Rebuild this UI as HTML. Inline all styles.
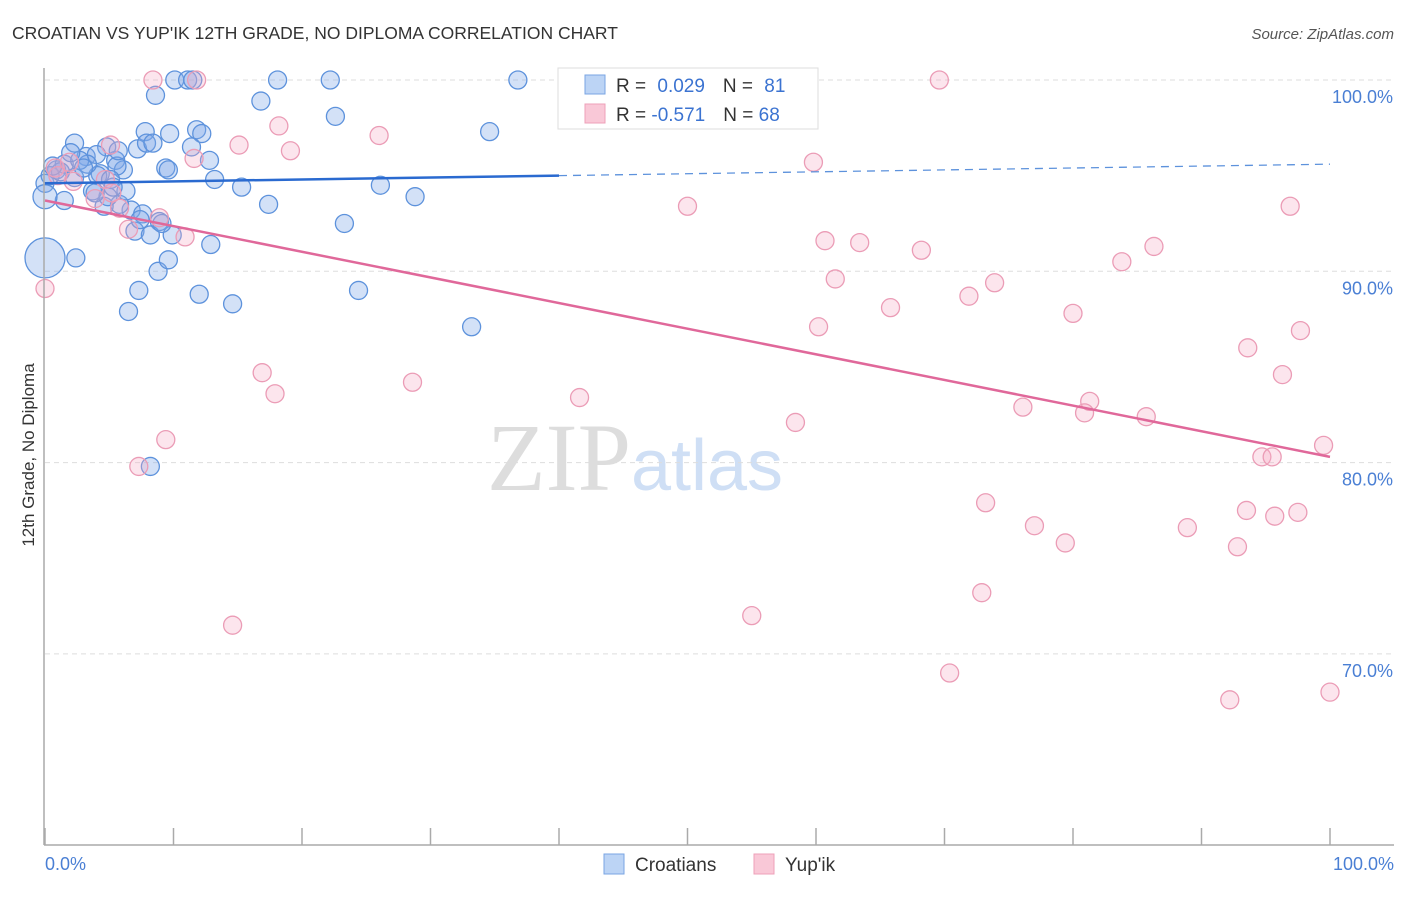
<!DOCTYPE html>
<html><head><meta charset="utf-8"><style>
body{margin:0;background:#fff;font-family:"Liberation Sans",sans-serif}
</style></head><body>
<svg width="1406" height="892" xmlns="http://www.w3.org/2000/svg" id="svg" font-family="Liberation Sans, sans-serif">
<text x="12" y="39" font-size="17.5" fill="#333">CROATIAN VS YUP'IK 12TH GRADE, NO DIPLOMA CORRELATION CHART</text>
<text x="1394" y="39" font-size="15" fill="#555" text-anchor="end" font-style="italic">Source: ZipAtlas.com</text>
<text transform="translate(34,455) rotate(-90)" font-size="17" fill="#333" text-anchor="middle">12th Grade, No Diploma</text>
<text x="635" y="490" font-size="96" fill="#ddd" text-anchor="middle" font-family="Liberation Serif, serif">ZIP<tspan fill="#cfdff5" font-family="Liberation Sans, sans-serif" font-size="72">atlas</tspan></text>
<g id="grid"></g><g id="pts"></g><g id="lines"></g>
<line x1="44" y1="68" x2="44" y2="845" stroke="#aaa" stroke-width="1.5"/>
<line x1="44" y1="845" x2="1394" y2="845" stroke="#aaa" stroke-width="1.5"/>
<text x="45" y="870" font-size="18" fill="#4a7fd4">0.0%</text>
<text x="1394" y="870" font-size="18" fill="#4a7fd4" text-anchor="end">100.0%</text>
<g>
<rect x="558" y="68" width="260" height="61" fill="#fff" stroke="#ddd"/>
<rect x="585" y="75" width="20" height="19" fill="#bcd4f5" stroke="#7aa5e3"/>
<rect x="585" y="104" width="20" height="19" fill="#f9c8d7" stroke="#eea0b8"/>
<text x="616" y="92" font-size="19" fill="#333">R = <tspan fill="#3b73d1" dx="6">0.029</tspan><tspan dx="18" fill="#333">N = </tspan><tspan fill="#3b73d1" dx="6">81</tspan></text>
<text x="616" y="121" font-size="19" fill="#333">R = <tspan fill="#3b73d1">-0.571</tspan><tspan dx="18" fill="#333">N = </tspan><tspan fill="#3b73d1">68</tspan></text>
</g>
<g>
<rect x="604" y="854" width="20" height="20" fill="#bcd4f5" stroke="#7aa5e3"/>
<text x="635" y="871" font-size="19" fill="#333">Croatians</text>
<rect x="754" y="854" width="20" height="20" fill="#f9c8d7" stroke="#eea0b8"/>
<text x="785" y="871" font-size="19" fill="#333">Yup'ik</text>
</g>
</svg>
<script>
const yTicks=[100,90,80,70];
const yTickLabels=["100.0%","90.0%","80.0%","70.0%"];
const xTicks=[0,10,20,30,40,50,60,70,80,90,100];
const blueX=[10.1,11.1,11.5,18.1,22.2,36.8,8.6,16.8,22.6,34.6,7.8,11.8,12.2,9.7,2.3,4.8,7.2,7.9,8.4,5.5,3.2,4.0,12.8,9.4,0.9,1.5,4.3,6.1,13.2,15.3,26.1,28.8,17.4,23.3,33.2,24.4,14.6,12.0,7.3,6.5,8.8,9.6,12.9,2.4,8.2,8.9,9.9,7.0,8.2,6.7,7.6,5.8,4.6,4.9,3.7,6.3,1.5,0,0.4,1.2,2.3,4.1,3.3,2.7,5.6,5.1,9.6,0.6,2.0,5.3,3.9,3.0,7.4,9.1,5.7,11.4,0,0];
const blueY=[100,100,100,100,100,100,99.2,98.9,98.1,97.3,97.3,97.4,97.2,97.2,96.7,96.5,96.4,96.7,96.7,95.8,96.0,96.1,95.8,95.4,95.3,95.6,95.1,95.3,94.8,94.4,94.5,93.9,93.5,92.5,87.1,89.0,88.3,88.8,89.0,87.9,90.0,90.6,91.4,90.7,79.8,92.6,91.9,92.1,91.9,93.2,93.0,93.5,93.4,93.9,94.2,94.2,93.7,94.6,95.0,95.2,94.9,95.0,95.6,95.8,95.5,94.8,95.3,95.5,96.2,94.4,94.1,95.4,92.7,92.5,96.3,96.5,93.9,90.7];
const blueR=[9,9,9,9,9,9,9,9,9,9,9,9,9,9,9,9,9,9,9,9,9,9,9,9,9,9,9,9,9,9,9,9,9,9,9,9,9,9,9,9,9,9,9,9,9,9,9,9,9,9,9,9,9,9,9,9,9,9,9,9,9,9,9,9,9,9,9,9,9,9,9,9,9,9,9,9,12,20];
const pinkX=[8.4,11.8,69.6,18.2,15.1,19.1,26.0,11.6,5.1,59.8,50.0,96.9,60.7,63.4,68.2,86.3,83.8,61.5,73.9,71.9,65.8,80.0,60.2,97.7,93.6,96.3,16.9,17.9,28.6,41.6,58.4,76.1,81.3,80.9,85.7,9.4,7.3,99.5,94.7,95.5,73.2,93.5,95.7,97.5,77.0,88.9,79.4,92.8,72.9,55.0,14.6,70.4,92.2,100,0,10.9,8.9,6.5,5.8,2.2,0.8,4.7,3.9,1.0,1.9,5.2];
const pinkY=[100,100,100,97.6,96.6,96.3,97.1,95.9,96.6,95.7,93.4,93.4,91.6,91.5,91.1,91.3,90.5,89.6,89.4,88.7,88.1,87.8,87.1,86.9,86.0,84.6,84.7,83.6,84.2,83.4,82.1,82.9,83.2,82.6,82.4,81.2,79.8,80.9,80.3,80.3,77.9,77.5,77.2,77.4,76.7,76.6,75.8,75.6,73.2,72.0,71.5,69.0,67.6,68.0,89.1,91.8,92.8,92.2,93.3,94.7,95.4,94.8,93.8,95.0,95.7,94.1];
const blueTrend=[94.6,95.6];
const pinkTrend=[93.7,80.3];
const NS="http://www.w3.org/2000/svg";
const xs=v=>45+v*12.85, ys=v=>80+(100-v)*19.13;
function mk(t,a,p){const e=document.createElementNS(NS,t);for(const k in a)e.setAttribute(k,a[k]);document.getElementById(p).appendChild(e);return e;}
yTicks.forEach((t,i)=>{
 const l=mk('line',{x1:45,x2:1394,y1:ys(t),y2:ys(t),stroke:'#ddd','stroke-dasharray':'5,4'},'grid');
 
 
 const tx=mk('text',{x:1393,y:ys(t)+23,'font-size':18,fill:'#4a7fd4','text-anchor':'end'},'grid');
 tx.textContent=yTickLabels[i];
 
 
});
xTicks.forEach(t=>{
 const l=mk('line',{x1:xs(t),x2:xs(t),y1:828,y2:845,stroke:'#aaa','stroke-width':1.5},'grid');
 
 
});
blueX.forEach((v,i)=>{
 const c=mk('circle',{cx:xs(v),cy:ys(blueY[i]),r:blueR[i],fill:'rgba(130,170,232,0.35)',stroke:'#5d92dc','stroke-width':1.3},'pts');
 
 
});
pinkX.forEach((v,i)=>{
 const c=mk('circle',{cx:xs(v),cy:ys(pinkY[i]),r:9,fill:'rgba(245,170,195,0.3)',stroke:'#eb9cb6','stroke-width':1.3},'pts');
 
 
});
const bm=blueTrend[0]+(blueTrend[1]-blueTrend[0])*0.4;
let l=mk('line',{x1:xs(0),y1:ys(blueTrend[0]),x2:xs(40),y2:ys(bm),stroke:'#2a6ad0','stroke-width':2.5},'lines');


l=mk('line',{x1:xs(40),y1:ys(bm),x2:xs(100),y2:ys(blueTrend[1]),stroke:'#5d92dc','stroke-width':1.3,'stroke-dasharray':'8,6'},'lines');


l=mk('line',{x1:xs(0),y1:ys(pinkTrend[0]),x2:xs(100),y2:ys(pinkTrend[1]),stroke:'#e0689a','stroke-width':2.5},'lines');


</script>
</body></html>
